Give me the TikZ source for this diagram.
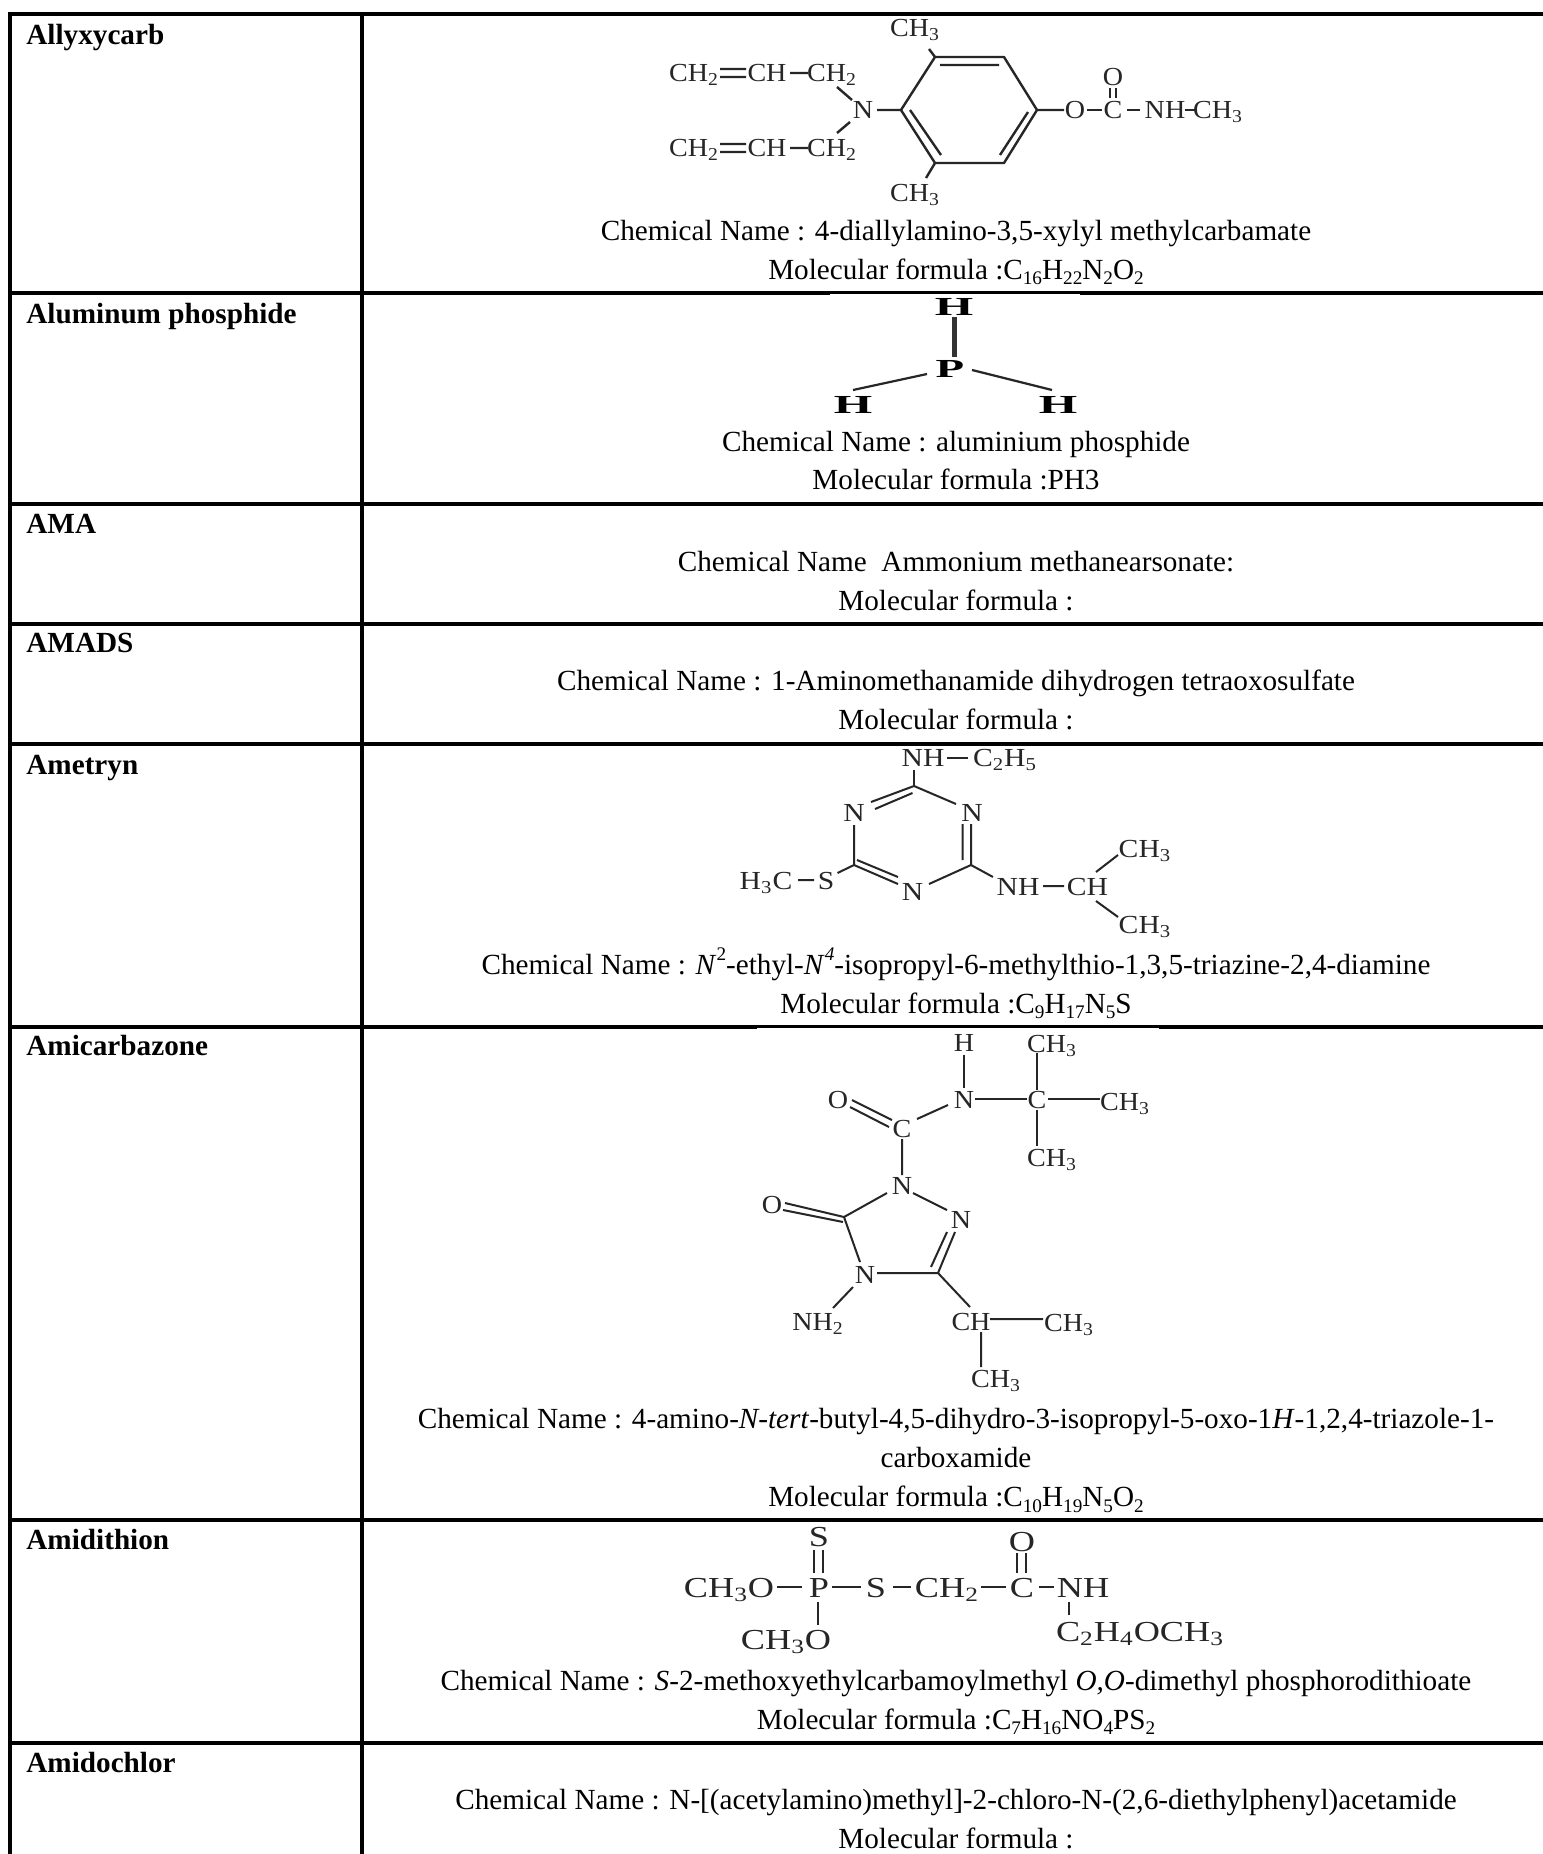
\documentclass[tikz,border=0pt]{standalone}
\usepackage{fontspec}
\setmainfont{Liberation Serif}
\newfontfamily\widef[FakeStretch=1.08]{Liberation Serif}
\newfontfamily\midf[FakeStretch=1.14]{Liberation Serif}
\newfontfamily\widerf[FakeStretch=1.25]{Liberation Serif}
\newcommand\tsub[1]{\textsubscript{#1}}
\newcommand\isub[1]{\raisebox{-0.2em}{\fontsize{9.6}{10}\selectfont #1}}
\newcommand\isup[1]{\raisebox{0.45em}{\fontsize{9.6}{10}\selectfont #1}}
\tikzset{
  grid/.style={line width=2pt,black,line cap=rect},
  bond/.style={line width=1pt,black!85},
  heavybond/.style={line width=1.2pt,black!85},
  namelbl/.style={anchor=base west,inner sep=0pt,font=\fontsize{14.6}{16}\selectfont\bfseries},
  infotxt/.style={anchor=base,inner sep=0pt,font=\fontsize{14.6}{16}\selectfont},
  atomC/.style={inner sep=0pt,text=black!85,font=\widef\fontsize{13}{14}\selectfont},
  atomB/.style={inner sep=0pt,text=black!85,font=\midf\fontsize{13}{14}\selectfont},
  atomD/.style={inner sep=0pt,text=black!85,font=\widerf\fontsize{14.5}{15}\selectfont},
  atomP/.style={inner sep=0pt,text=black,font=\fontsize{13}{14}\selectfont\bfseries},
}
\begin{document}
\begin{tikzpicture}[x=0.5pt,y=-0.5pt]
\useasboundingbox (0,0) rectangle (1543,1854);
\fill[white] (0,0) rectangle (1543,1854);
% table
\draw[grid] (10,14) -- (1543,14);
\foreach \yy in {293,504,624,744,1027,1520,1743} \draw[grid] (10,\yy) -- (1543,\yy);
\draw[grid] (10,14) -- (10,1854);
\draw[grid] (362,14) -- (362,1854);
\fill[white] (830,294.2) rectangle (1080,296);
\fill[white] (757,1028.2) rectangle (1159,1030);
% names
\node[namelbl] (n1) at (26,44) {Allyxycarb};
\node[namelbl] (n2) at (26,323) {Aluminum phosphide};
\node[namelbl] (n3) at (26,533) {AMA};
\node[namelbl] (n4) at (26,652) {AMADS};
\node[namelbl] (n5) at (26,774) {Ametryn};
\node[namelbl] (n6) at (26,1055) {Amicarbazone};
\node[namelbl] (n7) at (26,1549) {Amidithion};
\node[namelbl] (n8) at (26,1772) {Amidochlor};
% info
\node[infotxt] (c1) at (956,240) {Chemical Name : 4-diallylamino-3,5-xylyl methylcarbamate};
\node[infotxt] (f1) at (956,279) {Molecular formula :C\isub{16}H\isub{22}N\isub{2}O\isub{2}};
\node[infotxt] (c2) at (956,451) {Chemical Name : aluminium phosphide};
\node[infotxt] (f2) at (956,489) {Molecular formula :PH3};
\node[infotxt] (c3) at (956,571) {Chemical Name\ \ Ammonium methanearsonate:};
\node[infotxt] (f3) at (956,610) {Molecular formula :};
\node[infotxt] (c4) at (956,690.5) {Chemical Name : 1-Aminomethanamide dihydrogen tetraoxosulfate};
\node[infotxt] (f4) at (956,729.5) {Molecular formula :};
\node[infotxt] (c5) at (956,974) {Chemical Name : \textit{N}\isup{2}-ethyl-\textit{N}\isup{\textit{4}}-isopropyl-6-methylthio-1,3,5-triazine-2,4-diamine};
\node[infotxt] (f5) at (956,1013) {Molecular formula :C\isub{9}H\isub{17}N\isub{5}S};
\node[infotxt] (c6) at (956,1428) {Chemical Name : 4-amino-\textit{N-tert}-butyl-4,5-dihydro-3-isopropyl-5-oxo-1\textit{H}-1,2,4-triazole-1-};
\node[infotxt] (c6b) at (956,1467.5) {carboxamide};
\node[infotxt] (f6) at (956,1506.5) {Molecular formula :C\isub{10}H\isub{19}N\isub{5}O\isub{2}};
\node[infotxt] (c7) at (956,1690) {Chemical Name : \textit{S}-2-methoxyethylcarbamoylmethyl \textit{O,O}-dimethyl phosphorodithioate};
\node[infotxt] (f7) at (956,1729) {Molecular formula :C\isub{7}H\isub{16}NO\isub{4}PS\isub{2}};
\node[infotxt] (c8) at (956,1809) {Chemical Name : N-[(acetylamino)methyl]-2-chloro-N-(2,6-diethylphenyl)acetamide};
\node[infotxt] (f8) at (956,1848.5) {Molecular formula :};
% molecule 1
\node[atomC] (a1) at (915,30) {CH\tsub{3}};
\node[atomC] (a2) at (915,195) {CH\tsub{3}};
\node[atomC] (a3) at (863,110) {N};
\node[atomC] (a4) at (694,75) {CH\tsub{2}};
\node[atomC] (a5) at (767,73) {CH};
\node[atomC] (a6) at (832,75) {CH\tsub{2}};
\node[atomC] (a7) at (694,150) {CH\tsub{2}};
\node[atomC] (a8) at (767,148) {CH};
\node[atomC] (a9) at (832,150) {CH\tsub{2}};
\node[atomC] (a10) at (1075,110) {O};
\node[atomC] (a11) at (1113,110) {C};
\node[atomC] (a12) at (1113,77) {O};
\node[atomC] (a13) at (1165,110) {NH};
\node[atomC] (a14) at (1218,112) {CH\tsub{3}};
\draw[heavybond,line join=round] (935,57) -- (1004,57) -- (1037,110) -- (1004,163) -- (935,163) -- (901,110) -- cycle;
\draw[heavybond] (940,65) -- (999,65) (910,110) -- (941,155) (1028,112) -- (1000,155);
\draw[heavybond] (935,57) -- (929,49) (935,163) -- (926,178) (877,110) -- (901,110) (1037,110) -- (1064,110);
\draw[heavybond] (720,69) -- (746,69) (720,77) -- (746,77) (790,73) -- (808,73) (837,87) -- (852,100);
\draw[heavybond] (720,144) -- (746,144) (720,152) -- (746,152) (790,148) -- (808,148) (850,122) -- (837,133);
\draw[heavybond] (1087,110) -- (1102,110) (1110,88) -- (1110,98) (1116,88) -- (1116,98) (1127,110) -- (1140,110) (1185,110) -- (1196,110);
% molecule 2
\node[atomP] (b1) at (954,307) {\scalebox{1.9}[1]{H}};
\node[atomP] (b2) at (950,369) {\scalebox{1.8}[1]{P}};
\node[atomP] (b3) at (853,405) {\scalebox{1.9}[1]{H}};
\node[atomP] (b4) at (1058,405) {\scalebox{1.9}[1]{H}};
\draw[line width=2.5pt,black!80] (b1 |- 0,317) -- (b1 |- 0,357);
\draw[line width=1.1pt,black!85] (927,374) -- (853,390) (972,370) -- (1052,390);
% molecule 5
\node[atomB] (d1) at (923,758) {NH};
\node[atomB] (d2) at (1005,760) {C\tsub{2}H\tsub{5}};
\node[atomB] (d3) at (972,813) {N};
\node[atomB] (d4) at (854,813) {N};
\node[atomB] (d5) at (912.5,892) {N};
\node[atomB] (d6) at (826,881) {S};
\node[atomB] (d7) at (766,883) {H\tsub{3}C};
\node[atomB] (d8) at (1018,887) {NH};
\node[atomB] (d9) at (1087.5,887) {CH};
\node[atomB] (d10) at (1145,851) {CH\tsub{3}};
\node[atomB] (d11) at (1145,927) {CH\tsub{3}};
\draw[bond] (914,770) -- (914,786) (947,758) -- (968,758);
\draw[bond] (871,802) -- (914,786) -- (956,804) (962.5,824) -- (962.5,860) (971,824) -- (971,865) -- (929,884);
\draw[bond] (898,884) -- (854,865) -- (854,825) (857,860) -- (898,877) (875,809) -- (912.5,793);
\draw[bond] (798,880) -- (814,880) (837.5,873) -- (854,865) (971,865) -- (993,877) (1043,886) -- (1064,886);
\draw[bond] (1096,872) -- (1118,855) (1096,901) -- (1118,917);
% molecule 6
\node[atomC] (e1) at (964,1043) {H};
\node[atomC] (e2) at (964,1100) {N};
\node[atomC] (e3) at (1052,1046) {CH\tsub{3}};
\node[atomC] (e4) at (1037,1100) {C};
\node[atomC] (e5) at (1125,1104) {CH\tsub{3}};
\node[atomC] (e6) at (1052,1160) {CH\tsub{3}};
\node[atomC] (e7) at (838,1100) {O};
\node[atomC] (e8) at (902,1129) {C};
\node[atomC] (e9) at (902,1186) {N};
\node[atomC] (e10) at (961,1220) {N};
\node[atomC] (e11) at (772,1205) {O};
\node[atomC] (e12) at (865,1275) {N};
\node[atomC] (e13) at (971,1322) {CH};
\node[atomC] (e14) at (1069,1325) {CH\tsub{3}};
\node[atomC] (e15) at (996,1381) {CH\tsub{3}};
\node[atomC] (e16) at (818,1324) {NH\tsub{2}};
\draw[bond] (964,1055) -- (964,1088) (1037,1053) -- (1037,1090) (975,1099) -- (1027,1099) (1048,1099) -- (1100,1099) (1037,1110) -- (1037,1146);
\draw[bond] (852,1100) -- (892,1120) (850,1107) -- (889,1127) (917,1119) -- (948,1105) (902,1139) -- (902,1175);
\draw[bond] (887,1193) -- (844,1217) -- (860,1262) (913,1193) -- (947,1210);
\draw[bond] (785,1203) -- (844,1217) (783,1210) -- (843,1222);
\draw[bond] (877,1273) -- (938,1273) -- (955,1232) (931,1267) -- (947,1232) (938,1273) -- (970,1307);
\draw[bond] (990,1319) -- (1043,1319) (981,1332) -- (981,1367) (853,1287) -- (833,1308);
% molecule 7
\node[atomD] (g1) at (819,1537) {S};
\node[atomD] (g2) at (819,1588) {P};
\node[atomD] (g3) at (729,1590) {CH\tsub{3}O};
\node[atomD] (g4) at (876,1588) {S};
\node[atomD] (g5) at (947,1590) {CH\tsub{2}};
\node[atomD] (g6) at (1022,1588) {C};
\node[atomD] (g7) at (1022,1542) {O};
\node[atomD] (g8) at (1083,1588) {NH};
\node[atomD] (g9) at (1140,1634) {C\tsub{2}H\tsub{4}OCH\tsub{3}};
\node[atomD] (g10) at (786,1642) {CH\tsub{3}O};
\draw[heavybond] (814,1550) -- (814,1573) (823,1550) -- (823,1573) (777,1587) -- (802,1587) (832,1587) -- (861,1587) (893,1587) -- (911,1587) (981,1587) -- (1006,1587);
\draw[heavybond] (1017,1553) -- (1017,1573) (1026,1553) -- (1026,1573) (1039,1587) -- (1054,1587) (1069,1602) -- (1069,1615) (818,1602) -- (818,1625);
\end{tikzpicture}
\end{document}
